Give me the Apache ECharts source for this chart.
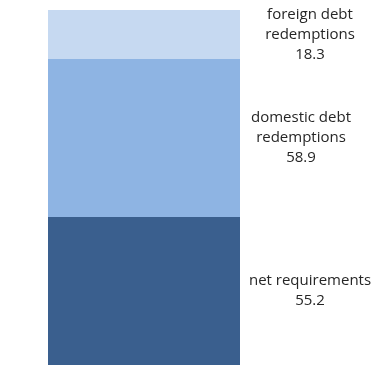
<!DOCTYPE html>
<html>
<head>
<meta charset="utf-8">
<script src="https://cdn.jsdelivr.net/npm/echarts@6/dist/echarts.min.js"></script>
<style>
  html, body { margin: 0; padding: 0; background: #fff; }
  #chart { width: 373px; height: 365px; }
</style>
</head>
<body>
<div id="chart"></div>
<script>
// one stacked column, bottom to top
const categories = ['total'];
const segNames = ['net requirements', 'domestic debt\nredemptions', 'foreign debt\nredemptions'];
const segValues = [55.2, 58.9, 18.3];
const segColors = ['#3a5f8e', '#8eb4e3', '#c6d9f1'];
const labelDist = [70, 61, 70]; // how far right the label centre sits

const chart = echarts.init(document.getElementById('chart'));

const series = segNames.map((name, i) => ({
  name: name,
  type: 'bar',
  stack: 'all',
  data: [segValues[i]],
  barWidth: 192,
  itemStyle: { color: segColors[i] },
  label: {
    show: true,
    position: 'right',
    distance: labelDist[i],
    align: 'center',
    verticalAlign: 'middle',
    color: '#262626',
    fontFamily: 'Open Sans',
    fontSize: 15,
    lineHeight: 20,
    formatter: (p) => p.seriesName + '\n' + p.value.toFixed(1)
  }
}));

chart.setOption({
  animation: false,
  grid: { left: 48, width: 192, top: 10, bottom: 0 },
  xAxis: { type: 'category', data: categories, show: false },
  yAxis: { type: 'value', min: 0, max: 132.4, show: false },
  series: series
});
</script>
</body>
</html>
